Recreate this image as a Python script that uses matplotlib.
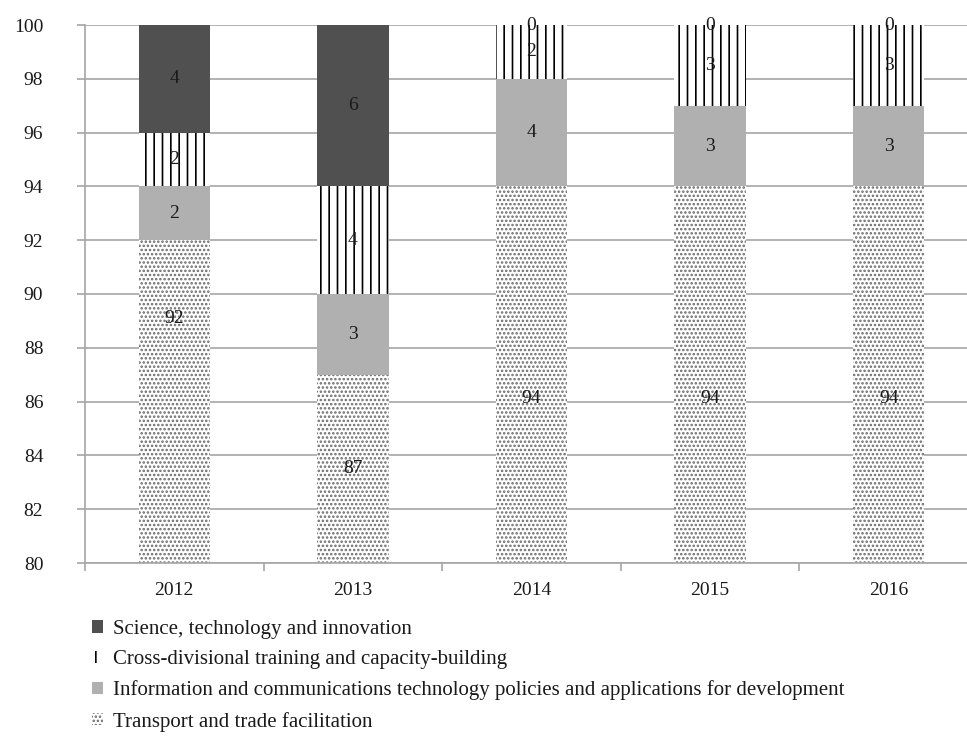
import matplotlib
matplotlib.use("Agg")
import matplotlib.pyplot as plt
import numpy as np

years = ["2012", "2013", "2014", "2015", "2016"]
transport = [92, 87, 94, 94, 94]
ict = [2, 3, 4, 3, 3]
cross = [2, 4, 2, 3, 3]
science = [4, 6, 0, 0, 0]
series_names = [
    "Science, technology and innovation",
    "Cross-divisional training and capacity-building",
    "Information and communications technology policies and applications for development",
    "Transport and trade facilitation",
]
# label y-positions for the bottom (transport) segment, as placed in the original
transport_label_y = [89.1, 83.5, 86.1, 86.1, 86.1]

plt.rcParams['font.family'] = ['Liberation Serif', 'DejaVu Serif']
plt.rcParams['hatch.linewidth'] = 1.2

fig = plt.figure(figsize=(9.67, 7.4), dpi=100)
ax = fig.add_axes([85/967, 1-563/740, 893/967, 538/740])

x = np.arange(len(years))
w = 0.4
b1 = ax.bar(x, transport, w, color='white', edgecolor='#6a6a6a', hatch='....', linewidth=0, zorder=2)
bot = np.array(transport, dtype=float)
b2 = ax.bar(x, ict, w, bottom=bot, color='#b0b0b0', linewidth=0, zorder=2)
bot = bot + ict
b3 = ax.bar(x, cross, w, bottom=bot, color='white', edgecolor='black', hatch='||', linewidth=0, zorder=2)
bot2 = bot + cross
b4 = ax.bar(x, science, w, bottom=bot2, color='#505050', linewidth=0, zorder=2)

fs = 14
tc = '#1a1a1a'
for i in range(len(years)):
    ax.text(x[i], transport_label_y[i], str(transport[i]), ha='center', va='center', fontsize=fs, color=tc, zorder=3)
    ax.text(x[i], transport[i] + ict[i]/2, str(ict[i]), ha='center', va='center', fontsize=fs, color=tc, zorder=3)
    yc = transport[i] + ict[i] + cross[i]/2
    ax.text(x[i], yc, str(cross[i]), ha='center', va='center', fontsize=fs, color=tc, zorder=3)
    ys = transport[i] + ict[i] + cross[i] + science[i]/2
    ax.text(x[i], min(ys, 100), str(science[i]), ha='center', va='center', fontsize=fs, color=tc, zorder=3)

ax.set_ylim(80, 100)
ax.set_xlim(-0.5, len(years) - 0.5)
ax.set_yticks(np.arange(80, 101, 2))
ax.yaxis.grid(True, color='#a6a6a6', linewidth=1.2, zorder=0)
ax.set_axisbelow(True)
ax.set_xticks(x)
ax.set_xticklabels(years)
ax.set_xticks(np.arange(-0.5, len(years), 1), minor=True)
ax.tick_params(axis='x', which='major', length=0, pad=14, labelsize=fs, labelcolor=tc)
ax.tick_params(axis='x', which='minor', length=6, color='#a6a6a6', width=1.2)
ax.tick_params(axis='y', length=6, color='#a6a6a6', width=1.2, labelsize=fs, pad=24, labelcolor=tc)
for s in ['top', 'right']:
    ax.spines[s].set_visible(False)
for s in ['left', 'bottom']:
    ax.spines[s].set_color('#a6a6a6')
    ax.spines[s].set_linewidth(1.2)

handles = [b4[0], b3[0], b2[0], b1[0]]
fig.legend(handles, series_names, loc='upper left', bbox_to_anchor=(92/967, 1-620/740),
           frameon=False, fontsize=15, handlelength=0.55, handleheight=0.55,
           handletextpad=0.45, labelspacing=0.54, borderaxespad=0, borderpad=0,
           labelcolor=tc)

fig.savefig('out.png', dpi=100)
